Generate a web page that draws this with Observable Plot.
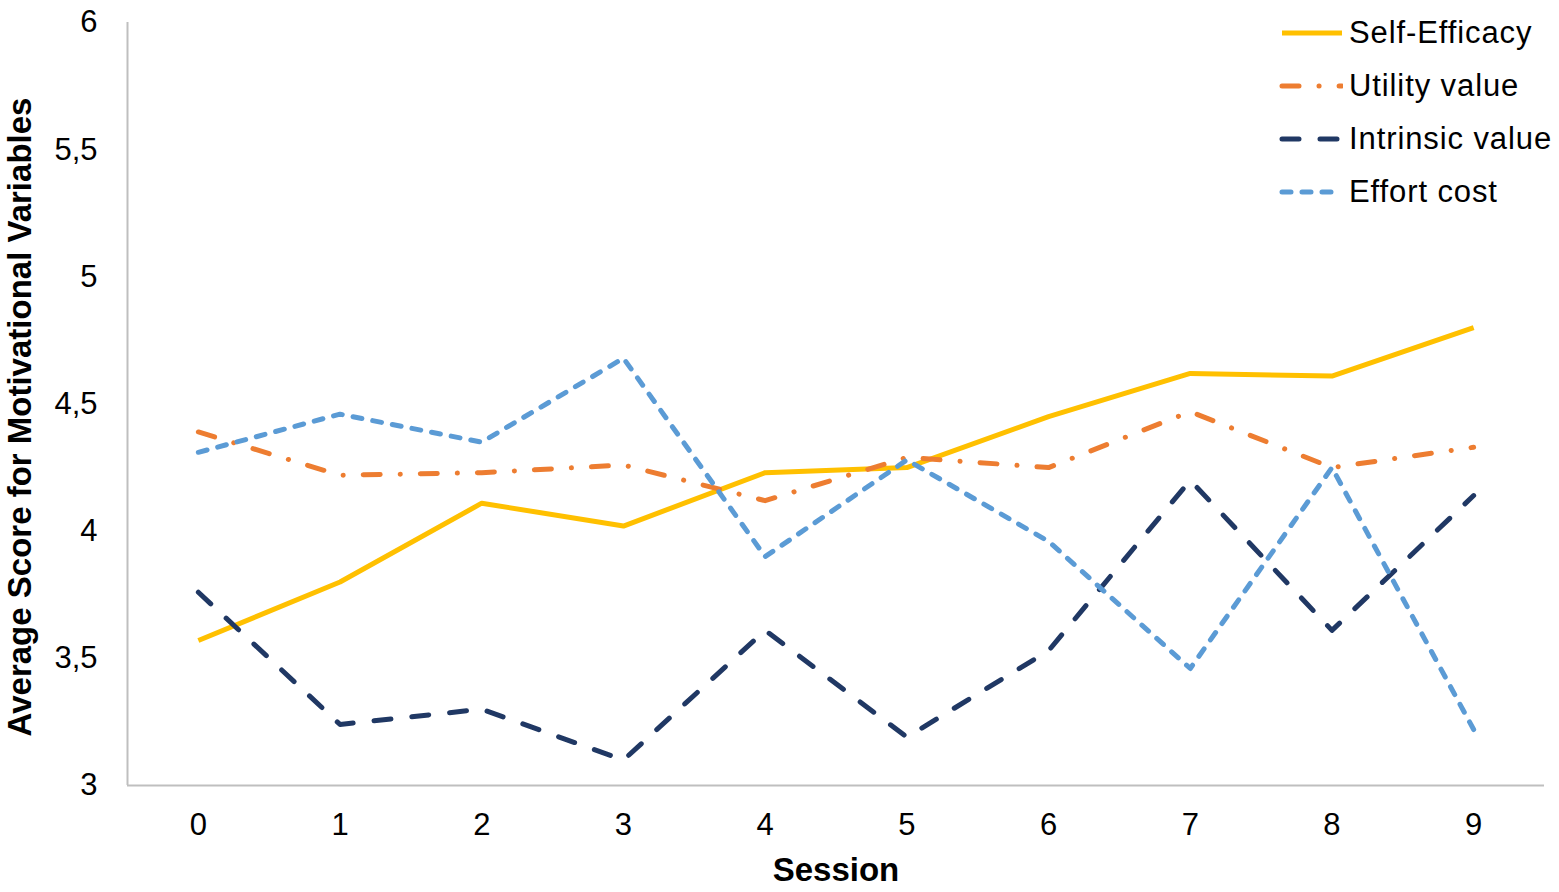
<!DOCTYPE html>
<html><head><meta charset="utf-8">
<script src="https://cdn.jsdelivr.net/npm/d3@7"></script>
<script src="https://cdn.jsdelivr.net/npm/@observablehq/plot@0.6"></script>
<style>
body{margin:0;background:#fff;}
#wrap{position:relative;width:1559px;height:892px;font-family:"Liberation Sans",Arial,sans-serif;}
#legend{position:absolute;left:1277px;top:6px;}
.row{display:flex;align-items:center;height:53px;font-size:31px;letter-spacing:0.9px;color:#000;}
.row svg{margin-right:6px;}
</style></head>
<body><div id="wrap"><div id="chart"></div><div id="legend"></div></div>
<script>
const sessions = [0, 1, 2, 3, 4, 5, 6, 7, 8, 9];
const seriesNames = ["Self-Efficacy", "Utility value", "Intrinsic value", "Effort cost"];
const selfEfficacy = [3.57, 3.80, 4.11, 4.02, 4.23, 4.25, 4.45, 4.62, 4.61, 4.80];
const utilityValue = [4.39, 4.22, 4.23, 4.26, 4.12, 4.29, 4.25, 4.47, 4.25, 4.33];
const intrinsicValue = [3.76, 3.24, 3.30, 3.10, 3.61, 3.19, 3.53, 4.20, 3.61, 4.14];
const effortCost = [4.31, 4.46, 4.35, 4.68, 3.90, 4.28, 3.96, 3.46, 4.25, 3.22];
const yTicks = [3, 3.5, 4, 4.5, 5, 5.5, 6];
const xTitle = "Session";
const yTitle = "Average Score for Motivational Variables";

const seriesValues = [selfEfficacy, utilityValue, intrinsicValue, effortCost];
const styles = [
  {stroke: "#FFC000", dash: null},
  {stroke: "#ED7D31", dash: "17,20,0.1,20"},
  {stroke: "#203864", dash: "17,21"},
  {stroke: "#5B9BD5", dash: "9,11"}
];
const tables = seriesValues.map((vals, k) => sessions.map((s, i) => ({session: s, value: vals[i], series: seriesNames[k]})));

const fmt = d => String(d).replace(".", ",");
const font = "Liberation Sans, Arial, sans-serif";

const chart = Plot.plot({
  width: 1559,
  height: 892,
  marginLeft: 127,
  marginRight: 15,
  marginTop: 22,
  marginBottom: 107,
  style: {fontFamily: font, background: "#fff", color: "#000"},
  x: {domain: [-0.5, 9.5]},
  y: {domain: [3, 6]},
  marks: [
    Plot.axisX({ticks: sessions, tickSize: 0, tickPadding: 27, fontSize: 31, tickFormat: d => String(d), label: null}),
    Plot.axisY({ticks: yTicks, tickSize: 0, tickPadding: 30, fontSize: 31, tickFormat: fmt, label: null}),
    Plot.text([xTitle], {frameAnchor: "bottom", dy: 85, fontSize: 33, fontWeight: "bold", fill: "#000", lineAnchor: "middle"}),
    Plot.text([yTitle], {frameAnchor: "left", dx: -107, dy: 13, rotate: -90, fontSize: 33, fontWeight: "bold", fill: "#000", lineAnchor: "middle", textAnchor: "middle"}),
    Plot.ruleY([3], {x1: -0.5, x2: 9.5, stroke: "#bfbfbf", strokeWidth: 2}),
    Plot.ruleX([-0.5], {y1: 3, y2: 6, stroke: "#bfbfbf", strokeWidth: 2}),
    ...tables.map((t, k) => Plot.line(t, {
      x: "session", y: "value",
      stroke: styles[k].stroke, strokeWidth: 5,
      strokeDasharray: styles[k].dash || undefined,
      strokeLinecap: styles[k].dash ? "round" : "butt",
      strokeLinejoin: "round"
    }))
  ]
});
document.getElementById("chart").appendChild(chart);

const legend = document.getElementById("legend");
seriesNames.forEach((name, k) => {
  const row = document.createElement("div");
  row.className = "row";
  const st = styles[k];
  row.innerHTML = `<svg width="66" height="10"><line x1="5" x2="65" y1="5" y2="5" stroke="${st.stroke}" stroke-width="5" ${st.dash ? `stroke-dasharray="${st.dash}" stroke-linecap="round"` : ""}/></svg><span>${name}</span>`;
  legend.appendChild(row);
});
</script>
</body></html>
